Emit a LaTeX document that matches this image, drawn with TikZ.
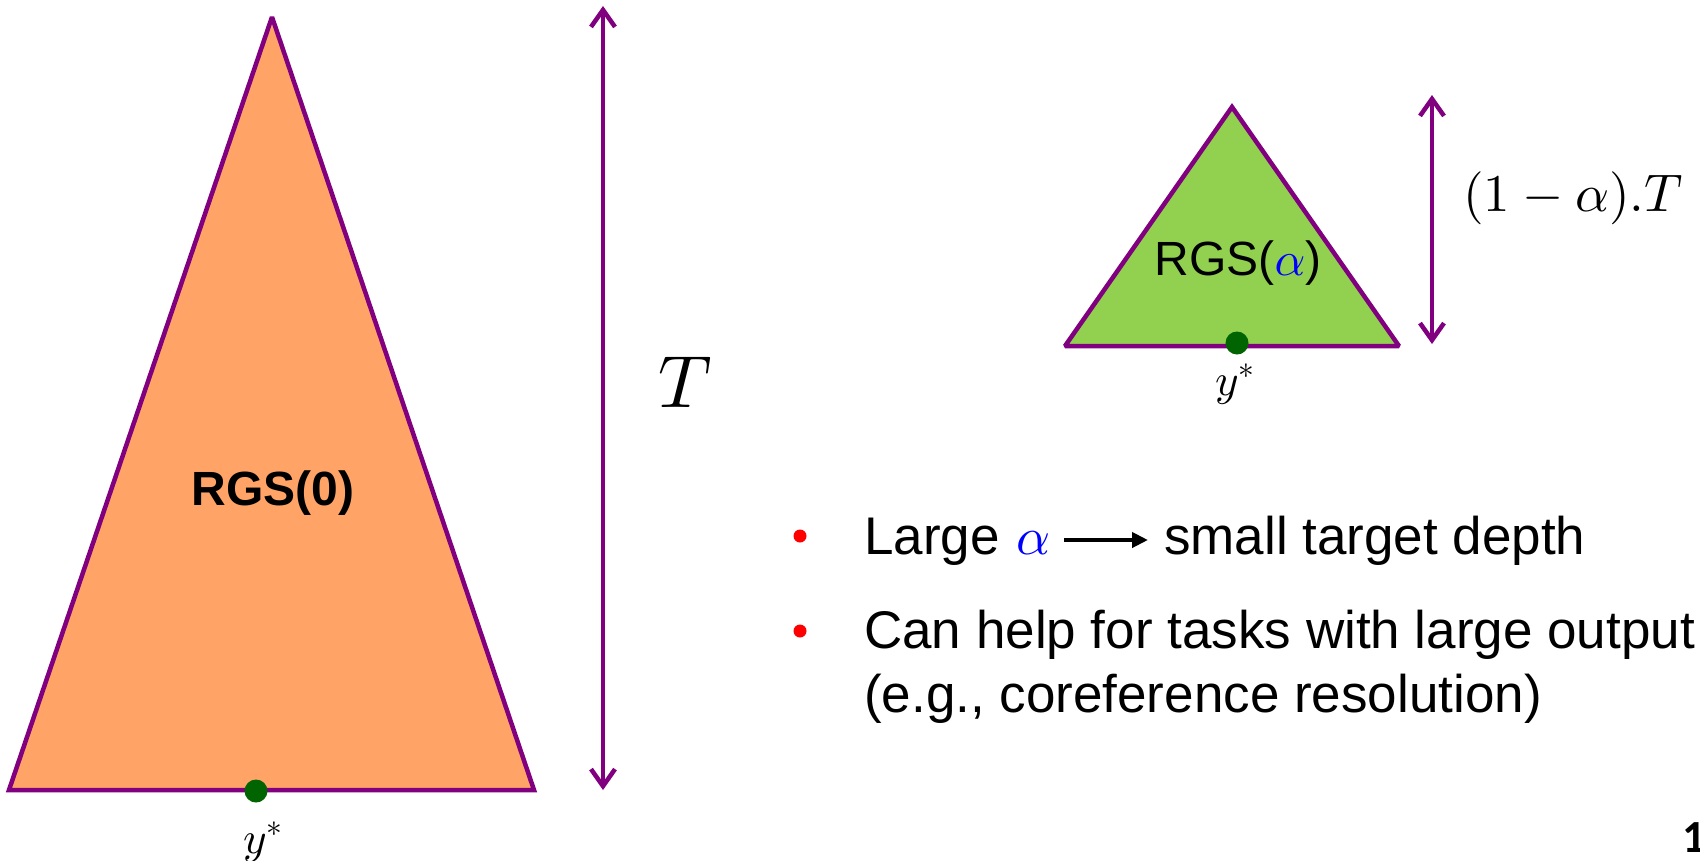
\documentclass[tikz,border=0pt]{standalone}
\usepackage[no-math]{fontspec}
\setmainfont{Liberation Sans}
\newfontfamily\pagefont{Carlito}
\DeclareFontFamily{OML}{cmm}{\skewchar\font'177}
\DeclareFontShape{OML}{cmm}{m}{it}{<->cmmi10}{}
\DeclareFontShape{OML}{cmm}{b}{it}{<->cmmib10}{}
\DeclareFontFamily{OMS}{cmsy}{\skewchar\font'60}
\DeclareFontShape{OMS}{cmsy}{m}{n}{<->cmsy10}{}
\DeclareFontShape{OT1}{cmr}{m}{n}{<->cmr10}{}
\DeclareFontShape{OMX}{cmex}{m}{n}{<->cmex10}{}
\usetikzlibrary{arrows.meta}
\definecolor{orangefill}{RGB}{255,164,102}
\definecolor{greenfill}{RGB}{146,208,80}
\definecolor{purp}{RGB}{128,0,128}
\definecolor{dotgreen}{RGB}{0,100,0}
\tikzset{
  tri/.style={draw=purp, line width=4.5pt, line join=miter, miter limit=2},
  dimarrow/.style={draw=purp, line width=4.5pt, {Straight Barb[length=17pt,width=24pt,line width=4.5pt]}-{Straight Barb[length=17pt,width=24pt,line width=4.5pt]}},
  ydot/.style={circle, fill=dotgreen, inner sep=0pt, minimum size=23pt},
  bullet/.style={circle, fill=red, inner sep=0pt, minimum size=13pt},
  bodytext/.style={inner sep=0pt, font=\fontsize{53}{64}\selectfont},
  blackarrow/.style={draw=black, line width=4.5pt, -{Triangle[length=16pt,width=15pt]}},
}
\begin{document}
\begin{tikzpicture}[x=1pt,y=-1pt]
\useasboundingbox (0,0) rectangle (1700,860);
% big triangle
\coordinate (A) at (272,17);
\coordinate (BL) at (9,790);
\coordinate (BR) at (534,790);
\draw[tri, fill=orangefill] (A) -- (BL) -- (BR) -- cycle;
\node[ydot] (d1) at (256,791) {};
\node[inner sep=0pt, font=\fontsize{45}{54}\selectfont] (y1) at (263,842) {$y^*$};
\node[inner sep=0pt, font=\fontsize{48}{58}\selectfont\bfseries] (rgs0) at (273,493) {RGS(0)};
% big arrow
\coordinate (Ttop) at (603,6);
\coordinate (Tbot) at (603,790);
\draw[dimarrow] (Ttop) -- (Tbot);
\node[inner sep=0pt, font=\fontsize{74}{88}\selectfont] (Tlab) at (685,382) {$T$};
% small triangle
\coordinate (a) at (1232,107);
\coordinate (bl) at (1065,346);
\coordinate (br) at (1399,346);
\draw[tri, fill=greenfill] (a) -- (bl) -- (br) -- cycle;
\node[ydot] (d2) at (1237,343) {};
\node[inner sep=0pt, font=\fontsize{45}{54}\selectfont] (y2) at (1235,384) {$y^*$};
\node[inner sep=0pt, font=\fontsize{48}{58}\selectfont] (rgsa) at (1238,263) {RGS(\textcolor{blue}{$\alpha$})};
\coordinate (stop) at (1432,95);
\coordinate (sbot) at (1432,344);
\draw[dimarrow] (stop) -- (sbot);
\node[inner sep=0pt, anchor=west, font=\fontsize{53}{64}\selectfont] (lab2) at (1463,198) {$(1-\alpha).T$};
% bullets
\node[bullet] (b1) at (800,536) {};
\node[bodytext, anchor=base west] (large) at (864,554) {Large};
\node[bodytext, anchor=base west] (alph) at (1016,554) {\textcolor{blue}{$\alpha$}};
\node[bodytext, anchor=base west] (small) at (1164,554) {small target depth};
\coordinate (arS) at (1064,540);
\coordinate (arE) at (1148,540);
\draw[blackarrow] (arS) -- (arE);
\node[bullet] (b2) at (800,631) {};
\node[bodytext, anchor=base west] (can) at (864,648) {Can help for tasks with large output};
\node[bodytext, anchor=base west] (eg) at (864,712) {(e.g., coreference resolution)};
\node[inner sep=0pt, anchor=base west, font=\fontsize{46}{54}\selectfont\pagefont\bfseries] (pg) at (1682,852) {1};
\end{tikzpicture}
\end{document}
